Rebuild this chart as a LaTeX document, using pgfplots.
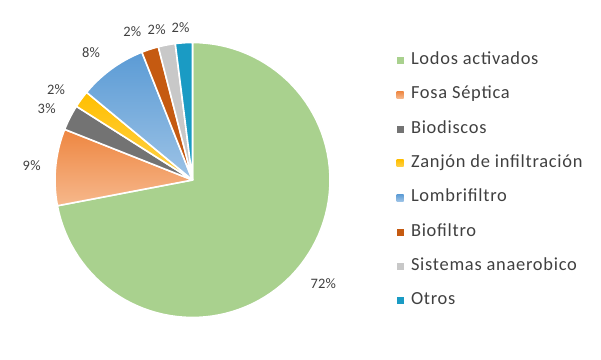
\documentclass[border=0pt]{standalone}
\usepackage{pgfplots}
\usepackage{pgfplotstable}
\pgfplotsset{compat=1.18}
\usepackage{fontspec}
\setmainfont{Carlito}
\newfontfamily\legfont[LetterSpace=4]{Carlito}
\newfontfamily\labfont[LetterSpace=2]{Carlito}
\definecolor{txt}{HTML}{404040}
\definecolor{cGreen}{HTML}{A9D18E}
\definecolor{cOrT}{HTML}{EE8641}
\definecolor{cOrB}{HTML}{F6B88C}
\definecolor{cGray}{HTML}{737373}
\definecolor{cYelT}{HTML}{FFBF00}
\definecolor{cYelB}{HTML}{FFD24D}
\definecolor{cBlT}{HTML}{5B9BD5}
\definecolor{cBlB}{HTML}{9DC3E6}
\definecolor{cBrown}{HTML}{C55A11}
\definecolor{cLGray}{HTML}{C8C8C8}
\definecolor{cTeal}{HTML}{1A9BC4}
\pgfplotstableread{
idx value
0 72
1 9
2 3
3 2
4 8
5 2
6 2
7 2
}\pietable
\tikzset{
 slice0/.style={fill=cGreen},
 slice1/.style={top color=cOrT, bottom color=cOrB},
 slice2/.style={fill=cGray},
 slice3/.style={top color=cYelT, bottom color=cYelB},
 slice4/.style={top color=cBlT, bottom color=cBlB},
 slice5/.style={fill=cBrown},
 slice6/.style={fill=cLGray},
 slice7/.style={fill=cTeal},
}
\begin{document}
\begin{tikzpicture}
\begin{axis}[
  name=pie,
  width=601bp, height=360bp, scale only axis,
  xmin=0, xmax=601, ymin=0, ymax=360,
  axis lines=none, clip=false,
  legend cell align=left,
  legend image code/.code={\path[#1,draw=none] (0bp,-3.5bp) rectangle (7bp,3.5bp);},
  legend style={draw=none, fill=none, inner sep=0pt, outer sep=0pt,
    at={(axis cs:396.5,307.5)}, anchor=north west,
    font=\legfont\fontsize{18.5}{20}\selectfont\color{txt},
    nodes={inner sep=0pt, text height=12bp, text depth=4bp},
    row sep=18.3bp, column sep=7.5bp},
  legend entries={Lodos activados, Fosa Séptica, Biodiscos, Zanjón de infiltración, Lombrifiltro, Biofiltro, Sistemas anaerobico, Otros},
]
\def\cum{0}
\pgfplotsforeachungrouped \i in {0,...,7}{%
  \pgfplotstablegetelem{\i}{value}\of\pietable
  \let\v\pgfplotsretval
  \pgfmathsetmacro\aone{90-3.6*\cum}%
  \pgfmathsetmacro\cumnew{\cum+\v}%
  \pgfmathsetmacro\atwo{90-3.6*\cumnew}%
  \edef\temp{\noexpand\addplot[slice\i, draw=white, line width=1.6bp, line join=round, domain=\atwo:\aone, samples=90, variable=\noexpand\t] ({192.5+137.5*cos(\noexpand\t)},{180+137.5*sin(\noexpand\t)}) -- (axis cs:192.5,180) -- cycle;}%
  \temp
  \global\let\cum\cumnew
}
\begin{scope}[font=\labfont\fontsize{14.5}{16}\selectfont, text=txt]
\node at (axis cs:323.3,76.7) {72\%};
\node at (axis cs:31.7,194.3) {9\%};
\node at (axis cs:46.7,251) {3\%};
\node at (axis cs:56,270.7) {2\%};
\node at (axis cs:91,307.3) {8\%};
\node at (axis cs:132.3,328.5) {2\%};
\node at (axis cs:156.7,330.5) {2\%};
\node at (axis cs:180.5,332.5) {2\%};
\end{scope}
\end{axis}
\pgfresetboundingbox
\path[use as bounding box] (pie.south west) rectangle (pie.north east);
\end{tikzpicture}
\end{document}
